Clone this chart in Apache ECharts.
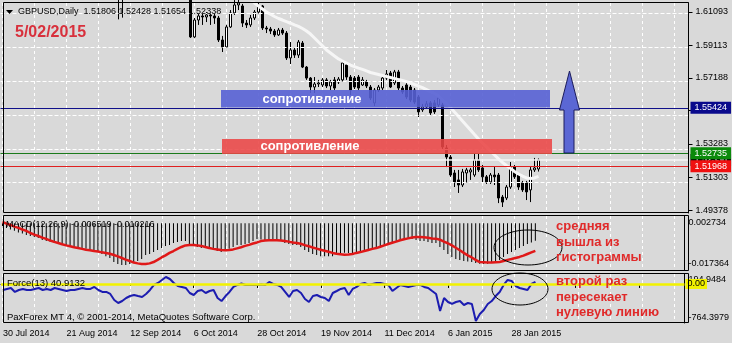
<!DOCTYPE html>
<html><head><meta charset="utf-8">
<script src="https://cdn.jsdelivr.net/npm/echarts@6/dist/echarts.min.js"></script>
<style>html,body{margin:0;padding:0;background:#d9d9d9;}#c{width:732px;height:343px;}</style>
</head><body><div id="c"></div>
<script>
const FONT = '"Liberation Sans", Arial, sans-serif';
const dates = ['30 Jul 2014','31 Jul 2014','1 Aug 2014','4 Aug 2014','5 Aug 2014','6 Aug 2014','7 Aug 2014','8 Aug 2014','11 Aug 2014','12 Aug 2014','13 Aug 2014','14 Aug 2014','15 Aug 2014','18 Aug 2014','19 Aug 2014','20 Aug 2014','21 Aug 2014','22 Aug 2014','25 Aug 2014','26 Aug 2014','27 Aug 2014','28 Aug 2014','29 Aug 2014',
'1 Sep 2014','2 Sep 2014','3 Sep 2014','4 Sep 2014','5 Sep 2014','8 Sep 2014','9 Sep 2014','10 Sep 2014','11 Sep 2014','12 Sep 2014','15 Sep 2014','16 Sep 2014','17 Sep 2014','18 Sep 2014','19 Sep 2014','22 Sep 2014','23 Sep 2014','24 Sep 2014','25 Sep 2014','26 Sep 2014','29 Sep 2014','30 Sep 2014',
'1 Oct 2014','2 Oct 2014','3 Oct 2014','6 Oct 2014','7 Oct 2014','8 Oct 2014','9 Oct 2014','10 Oct 2014','13 Oct 2014','14 Oct 2014','15 Oct 2014','16 Oct 2014','17 Oct 2014','20 Oct 2014','21 Oct 2014','22 Oct 2014','23 Oct 2014','24 Oct 2014','27 Oct 2014','28 Oct 2014','29 Oct 2014','30 Oct 2014','31 Oct 2014',
'3 Nov 2014','4 Nov 2014','5 Nov 2014','6 Nov 2014','7 Nov 2014','10 Nov 2014','11 Nov 2014','12 Nov 2014','13 Nov 2014','14 Nov 2014','17 Nov 2014','18 Nov 2014','19 Nov 2014','20 Nov 2014','21 Nov 2014','24 Nov 2014','25 Nov 2014','26 Nov 2014','27 Nov 2014','28 Nov 2014',
'1 Dec 2014','2 Dec 2014','3 Dec 2014','4 Dec 2014','5 Dec 2014','8 Dec 2014','9 Dec 2014','10 Dec 2014','11 Dec 2014','12 Dec 2014','15 Dec 2014','16 Dec 2014','17 Dec 2014','18 Dec 2014','19 Dec 2014','22 Dec 2014','23 Dec 2014','24 Dec 2014','26 Dec 2014','29 Dec 2014','30 Dec 2014','31 Dec 2014',
'2 Jan 2015','5 Jan 2015','6 Jan 2015','7 Jan 2015','8 Jan 2015','9 Jan 2015','12 Jan 2015','13 Jan 2015','14 Jan 2015','15 Jan 2015','16 Jan 2015','19 Jan 2015','20 Jan 2015','21 Jan 2015','22 Jan 2015','23 Jan 2015','26 Jan 2015','27 Jan 2015','28 Jan 2015','29 Jan 2015','30 Jan 2015',
'2 Feb 2015','3 Feb 2015','4 Feb 2015','5 Feb 2015'];
const emptySlots = 37;

// [open, close, low, high]
const ohlc = [
[1.6940,1.6885,1.6860,1.6965],[1.6885,1.6880,1.6855,1.6920],[1.6880,1.6820,1.6790,1.6900],[1.6820,1.6860,1.6815,1.6885],[1.6860,1.6875,1.6830,1.6900],
[1.6875,1.6840,1.6815,1.6890],[1.6840,1.6825,1.6805,1.6870],[1.6825,1.6790,1.6770,1.6840],[1.6790,1.6790,1.6770,1.6810],[1.6790,1.6800,1.6780,1.6840],
[1.6800,1.6680,1.6660,1.6810],[1.6680,1.6690,1.6665,1.6715],[1.6690,1.6695,1.6660,1.6740],[1.6695,1.6720,1.6680,1.6750],[1.6720,1.6620,1.6600,1.6730],
[1.6620,1.6605,1.6580,1.6640],[1.6605,1.6600,1.6590,1.6640],[1.6600,1.6560,1.6535,1.6610],[1.6560,1.6570,1.6540,1.6590],[1.6570,1.6575,1.6530,1.6590],
[1.6575,1.6580,1.6550,1.6620],[1.6580,1.6600,1.6570,1.6630],[1.6600,1.6595,1.6570,1.6630],[1.6595,1.6600,1.6570,1.6630],[1.6600,1.6460,1.6440,1.6610],
[1.6460,1.6465,1.6410,1.6490],[1.6465,1.6390,1.6350,1.6480],[1.6390,1.6320,1.6285,1.6440],[1.6320,1.6205,1.6185,1.6330],[1.6205,1.6190,1.6065,1.6230],
[1.6190,1.6200,1.6075,1.6235],[1.6200,1.6230,1.6190,1.6250],[1.6230,1.6260,1.6200,1.6275],[1.6260,1.6260,1.6215,1.6290],[1.6260,1.6300,1.6195,1.6310],
[1.6300,1.6300,1.6270,1.6340],[1.6300,1.6390,1.6295,1.6525],[1.6390,1.6300,1.6285,1.6400],[1.6300,1.6330,1.6280,1.6350],[1.6330,1.6360,1.6300,1.6375],
[1.6360,1.6320,1.6300,1.6400],[1.6320,1.6300,1.6285,1.6345],[1.6300,1.6260,1.6240,1.6310],[1.6260,1.6250,1.6210,1.6295],[1.6250,1.6215,1.6190,1.6255],
[1.6215,1.6200,1.6188,1.6230],[1.6200,1.6190,1.6183,1.6225],[1.6190,1.5961,1.5955,1.6200],[1.5961,1.6061,1.5955,1.6073],[1.6061,1.6085,1.6032,1.6097],
[1.6085,1.6079,1.6032,1.6097],[1.6079,1.6091,1.6049,1.6108],[1.6091,1.6085,1.6032,1.6103],[1.6085,1.6073,1.6038,1.6097],[1.6073,1.5943,1.5931,1.6085],
[1.5943,1.5902,1.5872,1.5967],[1.5902,1.6020,1.5896,1.6032],[1.6020,1.6103,1.6014,1.6120],[1.6103,1.6150,1.6091,1.6179],[1.6150,1.6162,1.6120,1.6197],
[1.6144,1.6043,1.6020,1.6156],[1.6043,1.6032,1.6014,1.6061],[1.6032,1.6073,1.6020,1.6091],[1.6073,1.6108,1.6061,1.6120],[1.6108,1.6144,1.6097,1.6162],
[1.6144,1.6014,1.6002,1.6150],[1.6014,1.6008,1.5984,1.6026],[1.6008,1.5996,1.5978,1.6020],[1.5996,1.5973,1.5961,1.6008],[1.5973,1.6002,1.5967,1.6014],
[1.6002,1.5984,1.5973,1.6014],[1.5984,1.5837,1.5825,1.5996],[1.5837,1.5884,1.5801,1.5931],[1.5884,1.5854,1.5837,1.5896],[1.5854,1.5931,1.5837,1.5943],
[1.5925,1.5783,1.5777,1.5937],[1.5783,1.5718,1.5707,1.5789],[1.5718,1.5665,1.5630,1.5724],[1.5665,1.5683,1.5630,1.5724],[1.5683,1.5689,1.5665,1.5707],
[1.5677,1.5707,1.5665,1.5718],[1.5707,1.5671,1.5659,1.5718],[1.5671,1.5695,1.5647,1.5707],[1.5707,1.5659,1.5647,1.5724],[1.5695,1.5712,1.5683,1.5724],
[1.5707,1.5807,1.5695,1.5825],[1.5795,1.5724,1.5707,1.5813],[1.5724,1.5647,1.5618,1.5736],[1.5718,1.5665,1.5653,1.5730],[1.5724,1.5659,1.5647,1.5736],
[1.5677,1.5707,1.5671,1.5724],[1.5695,1.5671,1.5659,1.5707],[1.5665,1.5600,1.5588,1.5677],[1.5571,1.5647,1.5553,1.5659],[1.5647,1.5665,1.5636,1.5677],
[1.5659,1.5718,1.5647,1.5730],[1.5718,1.5742,1.5707,1.5766],[1.5748,1.5665,1.5659,1.5760],[1.5689,1.5754,1.5677,1.5766],[1.5754,1.5659,1.5647,1.5766],
[1.5659,1.5636,1.5624,1.5671],[1.5677,1.5606,1.5594,1.5689],[1.5665,1.5588,1.5576,1.5677],[1.5647,1.5576,1.5565,1.5659],[1.5606,1.5518,1.5488,1.5618],
[1.5530,1.5547,1.5518,1.5565],[1.5547,1.5565,1.5535,1.5582],[1.5571,1.5512,1.5500,1.5582],[1.5571,1.5518,1.5506,1.5588],[1.5559,1.5600,1.5547,1.5612],
[1.5559,1.5311,1.5299,1.5571],[1.5305,1.5251,1.5192,1.5322],[1.5251,1.5145,1.5134,1.5263],[1.5157,1.5104,1.5074,1.5175],[1.5116,1.5086,1.5039,1.5175],
[1.5086,1.5163,1.5074,1.5181],[1.5157,1.5175,1.5098,1.5187],[1.5163,1.5175,1.5116,1.5187],[1.5145,1.5234,1.5134,1.5275],[1.5234,1.5175,1.5163,1.5275],
[1.5187,1.5134,1.5098,1.5204],[1.5134,1.5104,1.5092,1.5145],[1.5104,1.5145,1.5092,1.5157],[1.5145,1.5134,1.5086,1.5192],[1.5145,1.5009,1.4979,1.5157],
[1.5015,1.4985,1.4956,1.5027],[1.5009,1.5074,1.4997,1.5086],[1.5074,1.5192,1.5063,1.5222],[1.5192,1.5134,1.5122,1.5204],[1.5145,1.5074,1.5057,1.5157],
[1.5098,1.5057,1.5045,1.5110],[1.5098,1.5045,1.4997,1.5110],[1.5057,1.5175,1.4985,1.5192],[1.5175,1.5187,1.5163,1.5246],[1.51806,1.52338,1.51654,1.52428]
];

const maLine = [
null,null,null,null,null,null,null,null,null,null, null,null,null,null,null,null,null,null,null,null,
null,null,null,null,null,null,null,null,null,null, null,null,null,null,null,null,null,null,null,null,
null,null,null,null,null,null,null,null,null,null, null,null,null,null,null,null,null,null,
1.6235,1.6225,1.6212,1.6200,1.6182,1.6162,1.6144,1.6126,1.6108,1.6095,1.6082,1.6070,
1.6061,1.6051,1.6042,1.6032,1.6023,1.6011,1.5996,1.5978,1.5955,1.5931,
1.5908,1.5884,1.5866,1.5848,1.5831,1.5819,1.5807,1.5795,1.5786,1.5777,
1.5769,1.5760,1.5751,1.5745,1.5739,1.5733,1.5727,1.5721,1.5715,1.5709,
1.5704,1.5697,1.5689,1.5680,1.5671,1.5661,1.5650,1.5638,1.5627,1.5612,
1.5588,1.5568,1.5544,1.5517,1.5491,1.5464,1.5438,1.5411,1.5384,1.5358,
1.5334,1.5311,1.5287,1.5263,1.5240,1.5219,1.5201,1.5184,1.5166,1.5151,
1.5139,1.5128,1.5125,1.5128,1.5137
];

const macdMain = [
-0.0010,-0.0017,-0.0023,-0.0028,-0.0034,-0.0038,-0.0043,-0.0047,-0.0051,-0.0055,
-0.0062,-0.0066,-0.0069,-0.0071,-0.0077,-0.0081,-0.0084,-0.0088,-0.0092,-0.0094,
-0.0095,-0.0095,-0.0097,-0.0099,-0.0107,-0.0114,-0.0122,-0.0129,-0.0144,-0.0151,
-0.0155,-0.0155,-0.0151,-0.0148,-0.0140,-0.0133,-0.0118,-0.0114,-0.0107,-0.0099,
-0.0092,-0.0084,-0.0081,-0.0073,-0.0069,-0.0066,-0.0066,-0.0081,-0.0084,-0.0088,
-0.0092,-0.0092,-0.0094,-0.0095,-0.0103,-0.0107,-0.0103,-0.0095,-0.0088,-0.0081,
-0.0081,-0.0077,-0.0073,-0.0066,-0.0058,-0.0060,-0.0062,-0.0064,-0.0066,-0.0066,
-0.0066,-0.0073,-0.0077,-0.0081,-0.0081,-0.0088,-0.0099,-0.0107,-0.0114,-0.0118,
-0.0122,-0.0122,-0.0122,-0.0122,-0.0118,-0.0110,-0.0109,-0.0110,-0.0110,-0.0109,
-0.0107,-0.0103,-0.0103,-0.0099,-0.0095,-0.0088,-0.0081,-0.0077,-0.0069,-0.0066,
-0.0062,-0.0058,-0.0058,-0.0058,-0.0062,-0.0066,-0.0066,-0.0069,-0.0073,-0.0073,
-0.0088,-0.0099,-0.0114,-0.0125,-0.0133,-0.0136,-0.0140,-0.0142,-0.0144,-0.0148,
-0.0150,-0.0151,-0.0150,-0.0146,-0.0142,-0.0136,-0.0125,-0.0114,-0.0107,-0.0099,
-0.0092,-0.0084,-0.0077,-0.0071,-0.006519
];

const macdSignal = [
0.0005,-0.0001,-0.0006,-0.0012,-0.0017,-0.0023,-0.0028,-0.0036,-0.0042,-0.0047,
-0.0053,-0.0058,-0.0064,-0.0069,-0.0073,-0.0078,-0.0082,-0.0085,-0.0089,-0.0092,
-0.0095,-0.0098,-0.0100,-0.0103,-0.0105,-0.0108,-0.0110,-0.0113,-0.0118,-0.0123,
-0.0129,-0.0135,-0.0140,-0.0146,-0.0149,-0.0151,-0.0151,-0.0149,-0.0144,-0.0136,
-0.0127,-0.0119,-0.0110,-0.0103,-0.0095,-0.0088,-0.0082,-0.0081,-0.0081,-0.0082,
-0.0084,-0.0088,-0.0092,-0.0095,-0.0097,-0.0099,-0.0100,-0.0099,-0.0097,-0.0093,
-0.0089,-0.0084,-0.0080,-0.0075,-0.0071,-0.0066,-0.0064,-0.0063,-0.0063,-0.0063,
-0.0064,-0.0066,-0.0068,-0.0071,-0.0073,-0.0076,-0.0081,-0.0085,-0.0090,-0.0094,
-0.0098,-0.0102,-0.0106,-0.0110,-0.0113,-0.0115,-0.0117,-0.0116,-0.0114,-0.0110,
-0.0107,-0.0103,-0.0099,-0.0095,-0.0092,-0.0087,-0.0082,-0.0077,-0.0072,-0.0068,
-0.0063,-0.0059,-0.0056,-0.0053,-0.0051,-0.0051,-0.0052,-0.0054,-0.0056,-0.0057,
-0.0061,-0.0068,-0.0074,-0.0082,-0.0091,-0.0100,-0.0110,-0.0119,-0.0127,-0.0136,
-0.0144,-0.0145,-0.0146,-0.0146,-0.0145,-0.0144,-0.0140,-0.0136,-0.0133,-0.0129,
-0.0125,-0.0120,-0.0114,-0.0108,-0.010216
];

const force13 = [
-118,-98,-79,-157,-118,-98,-118,-118,-98,-79,
-118,-98,-118,-79,-98,-118,-138,-118,-118,-98,
-79,-98,-98,-59,-118,-157,-157,-196,-314,-373,
-334,-275,-236,-216,-236,-255,-196,-118,-20,19,
78,136,97,19,-40,-59,-79,-177,-216,-138,
-118,-177,-138,-118,-275,-334,-236,-157,-59,-20,
9,-20,-20,-20,-20,-10,-20,38,0,-20,
-59,-157,-255,-138,-118,-177,-294,-353,-236,-216,
-255,-275,-334,-177,-138,-98,-79,-216,-98,-59,
0,19,-20,0,19,19,0,-20,-138,-79,
-20,-40,-59,-40,-20,-20,-59,-79,-138,-196,
-529,-275,-353,-392,-353,-334,-412,-373,-392,-725,
-588,-510,-392,-334,-236,-157,-20,78,58,-40,
-79,-98,-118,0,40.9132
];

const priceTicks = [1.61093, 1.59113, 1.57188, 1.55263, 1.53283, 1.51303, 1.49378];
const priceRange = [1.49205, 1.61616];
const macdRange = [-0.017364, 0.002734];
const forceRange = [-764.3979, 194.9484];
const levelBlue = 1.55424, levelGreen = 1.52735, levelRed = 1.51968;
const forceLevel = 0;
const gridStep = 8, labelStep = 16;

const cats = dates.concat(Array.from({length: emptySlots}, (_, k) => '#' + k));
const last = ohlc[ohlc.length - 1];
const n = dates.length;

const chart = echarts.init(document.getElementById('c'), null, {renderer: 'canvas'});

const gridX = {left: 0.5, width: 688};
const panels = [{top: 3, height: 210}, {top: 216, height: 54}, {top: 274, height: 49}];

function xAxisFor(gi, show) {
  return {
    type: 'category', gridIndex: gi, data: cats, boundaryGap: true,
    axisLine: {show: show, lineStyle: {color: '#000', width: 1}},
    axisTick: {show: show, alignWithLabel: true, length: 4, interval: (i) => i % labelStep === 0, lineStyle: {color: '#000'}},
    axisLabel: {show: show, interval: (i) => i % labelStep === 0 && i < n, align: 'left', margin: 6,
      fontSize: 9, fontFamily: FONT, color: '#000'},
    splitLine: {show: false}
  };
}
const dashStyle = {color: '#ffffff', width: 1, type: 'dashed', opacity: 1};
const sideLabel = {fontSize: 9, fontFamily: FONT, color: '#000'};

const option = {
  animation: false,
  backgroundColor: '#d9d9d9',
  grid: panels.map((p) => Object.assign({}, p, gridX)),
  xAxis: [xAxisFor(0, false), xAxisFor(1, false), xAxisFor(2, true)],
  yAxis: [
    {type: 'value', gridIndex: 0, position: 'right', min: priceRange[0], max: priceRange[1],
      axisLine: {show: true, lineStyle: {color: '#000'}},
      axisTick: {show: true, length: 4, customValues: priceTicks, lineStyle: {color: '#000'}},
      axisLabel: Object.assign({customValues: priceTicks, margin: 7, formatter: (v) => v.toFixed(5)}, sideLabel),
      splitLine: {show: false}},
    {type: 'value', gridIndex: 1, position: 'right', min: macdRange[0], max: macdRange[1],
      axisLine: {show: true, lineStyle: {color: '#000'}},
      axisTick: {show: false},
      axisLabel: Object.assign({customValues: macdRange, margin: 4,
        formatter: (v) => v > -0.01 ? '{t|' + v.toFixed(6) + '}' : '{b|' + v.toFixed(6) + '}',
        rich: {t: {padding: [14, 0, 0, 0], fontSize: 9, fontFamily: FONT}, b: {padding: [0, 0, 13, 0], fontSize: 9, fontFamily: FONT}}}, sideLabel),
      splitLine: {show: false}},
    {type: 'value', gridIndex: 2, position: 'right', min: forceRange[0], max: forceRange[1],
      axisLine: {show: true, lineStyle: {color: '#000'}},
      axisTick: {show: false},
      axisLabel: Object.assign({customValues: forceRange, margin: 4,
        formatter: (v) => v > 0 ? '{t|' + v.toFixed(4) + '}' : '{b|' + v.toFixed(4) + '}',
        rich: {t: {padding: [12, 0, 0, 0], fontSize: 9, fontFamily: FONT}, b: {padding: [0, 0, 10, 0], fontSize: 9, fontFamily: FONT}}}, sideLabel),
      splitLine: {show: false}}
  ],
  series: [
    {type: 'candlestick', xAxisIndex: 0, yAxisIndex: 0, data: ohlc, barWidth: 3, z: 3,
      itemStyle: {color: '#ffffff', color0: '#000000', borderColor: '#000000', borderColor0: '#000000', borderWidth: 1},
      markLine: {silent: true, symbol: ['none', 'none'], animation: false, precision: 5,
        label: {show: true, position: 'end', distance: 2, fontSize: 9, fontFamily: FONT, color: '#fff', padding: [2, 4, 1, 4],
          formatter: (p) => p.value.toFixed(5)},
        data: [
          {yAxis: last[1], lineStyle: {color: '#f4f4f4', width: 1.5, type: 'solid'},
            label: {backgroundColor: '#000000', color: '#fff'}},
          {yAxis: levelBlue, lineStyle: {color: '#10108a', width: 1, type: 'solid'},
            label: {backgroundColor: '#0a0a8c'}},
          {yAxis: levelGreen, lineStyle: {color: '#1a7a1a', width: 1, type: 'solid'},
            label: {backgroundColor: '#0b8a0b'}},
          {yAxis: levelRed, lineStyle: {color: '#e02020', width: 1, type: 'solid'},
            label: {backgroundColor: '#f01010'}}
        ]}},
    {type: 'line', xAxisIndex: 0, yAxisIndex: 0, data: maLine, symbol: 'none', z: 4,
      lineStyle: {color: '#f6f6f6', width: 3},
      markLine: {silent: true, symbol: ['none', 'none'], animation: false, label: {show: false},
        lineStyle: dashStyle, data: priceTicks.map((p) => ({yAxis: p}))}},
    {type: 'bar', xAxisIndex: 1, yAxisIndex: 1, data: macdMain, barWidth: 1, z: 3,
      itemStyle: {color: '#000000'}},
    {type: 'line', xAxisIndex: 1, yAxisIndex: 1, data: macdSignal, symbol: 'none', z: 4,
      lineStyle: {color: '#e01818', width: 2.5}},
    {type: 'line', xAxisIndex: 2, yAxisIndex: 2, data: force13, symbol: 'none', z: 4,
      lineStyle: {color: '#1c1cb0', width: 2},
      markLine: {silent: true, symbol: ['none', 'none'], animation: false,
        lineStyle: {color: '#f2f200', width: 2.5, type: 'solid'},
        label: {show: true, position: 'end', distance: 1, fontSize: 9, fontFamily: FONT, color: '#000',
          backgroundColor: '#f2f200', padding: [1, 2, 0, 2], formatter: (p) => p.value.toFixed(2)},
        data: [{yAxis: forceLevel}]}}
  ],
  graphic: [
    {type: 'rect', z: 50, silent: true, shape: {x: 3.5, y: 2.5, width: 685, height: 210}, style: {fill: 'none', stroke: '#000', lineWidth: 1}},
    {type: 'rect', z: 50, silent: true, shape: {x: 3.5, y: 215.5, width: 685, height: 55}, style: {fill: 'none', stroke: '#000', lineWidth: 1}},
    {type: 'rect', z: 50, silent: true, shape: {x: 3.5, y: 273.5, width: 685, height: 49}, style: {fill: 'none', stroke: '#000', lineWidth: 1}},
    {type: 'polygon', z: 60, silent: true, shape: {points: [[6, 10], [13, 10], [9.5, 14]]}, style: {fill: '#000'}},
    {type: 'text', z: 60, silent: true, style: {x: 18, y: 12, text: 'GBPUSD,Daily  ' + last[0].toFixed(5) + ' ' + last[3].toFixed(5) + ' ' + last[2].toFixed(5) + ' ' + last[1].toFixed(5),
      font: '9px ' + FONT, fill: '#000', textVerticalAlign: 'middle'}},
    {type: 'text', z: 60, silent: true, style: {x: 15, y: 33, text: '5/02/2015', font: 'bold 16px ' + FONT, fill: '#d8303c', textVerticalAlign: 'middle'}},
    {type: 'rect', z: 40, silent: true, shape: {x: 221, y: 90, width: 329, height: 17.5}, style: {fill: 'rgba(86,96,212,0.9)'}},
    {type: 'text', z: 41, silent: true, style: {x: 312, y: 99, text: 'сопротивление', font: 'bold 13px ' + FONT, fill: '#fff', textAlign: 'center', textVerticalAlign: 'middle'}},
    {type: 'rect', z: 40, silent: true, shape: {x: 222, y: 139, width: 330, height: 15}, style: {fill: 'rgba(234,70,70,0.88)'}},
    {type: 'text', z: 41, silent: true, style: {x: 310, y: 146.5, text: 'сопротивление', font: 'bold 13px ' + FONT, fill: '#fff', textAlign: 'center', textVerticalAlign: 'middle'}},
    {type: 'polygon', z: 40, silent: true, shape: {points: [[569.5, 71], [579.5, 110], [574, 110], [574, 153], [564, 153], [564, 110], [559.5, 110]]},
      style: {fill: '#5b67d4', stroke: '#1c1c5c', lineWidth: 1}},
    {type: 'ellipse', z: 45, silent: true, shape: {cx: 528, cy: 247.5, rx: 34, ry: 17.5}, style: {fill: 'none', stroke: '#000', lineWidth: 1}},
    {type: 'ellipse', z: 45, silent: true, shape: {cx: 520, cy: 289, rx: 28, ry: 16}, style: {fill: 'none', stroke: '#000', lineWidth: 1}},
    {type: 'text', z: 60, silent: true, style: {x: 6, y: 225, text: 'MACD(12,26,9) ' + macdMain[n - 1].toFixed(6) + ' ' + macdSignal[n - 1].toFixed(6),
      font: '9px ' + FONT, fill: '#000', textVerticalAlign: 'middle'}},
    {type: 'text', z: 60, silent: true, style: {x: 7, y: 283, text: 'Force(13) ' + force13[n - 1].toFixed(4),
      font: '9.5px ' + FONT, fill: '#000', textVerticalAlign: 'middle'}},
    {type: 'text', z: 60, silent: true, style: {x: 7, y: 317, text: 'PaxForex MT 4, © 2001-2014, MetaQuotes Software Corp.',
      font: '9.5px ' + FONT, fill: '#000', textVerticalAlign: 'middle'}},
    {type: 'text', z: 60, silent: true, style: {x: 556, y: 226, text: 'средняя', font: 'bold 13px ' + FONT, fill: '#e02a2a', textVerticalAlign: 'middle'}},
    {type: 'text', z: 60, silent: true, style: {x: 556, y: 242, text: 'вышла из', font: 'bold 13px ' + FONT, fill: '#e02a2a', textVerticalAlign: 'middle'}},
    {type: 'text', z: 60, silent: true, style: {x: 556, y: 257.5, text: 'гистограммы', font: 'bold 13px ' + FONT, fill: '#e02a2a', textVerticalAlign: 'middle'}},
    {type: 'text', z: 60, silent: true, style: {x: 556, y: 281.5, text: 'второй раз', font: 'bold 13px ' + FONT, fill: '#e02a2a', textVerticalAlign: 'middle'}},
    {type: 'text', z: 60, silent: true, style: {x: 556, y: 297, text: 'пересекает', font: 'bold 13px ' + FONT, fill: '#e02a2a', textVerticalAlign: 'middle'}},
    {type: 'text', z: 60, silent: true, style: {x: 556, y: 312.5, text: 'нулевую линию', font: 'bold 13px ' + FONT, fill: '#e02a2a', textVerticalAlign: 'middle'}}
  ]
};
chart.setOption(option);

// vertical grid every 8 bars, positioned through the category axis scale
const vLines = [];
cats.forEach((c, i) => {
  if (i % gridStep !== 0) return;
  const px = chart.convertToPixel({xAxisIndex: 0}, i);
  if (px == null || isNaN(px)) return;
  const x = Math.round(px - 0.5) + 0.5;
  panels.forEach((p) => {
    vLines.push({type: 'line', z: 1, silent: true,
      shape: {x1: x, y1: p.top, x2: x, y2: p.top + p.height},
      style: {stroke: '#ffffff', lineWidth: 1, lineDash: [3, 3]}});
  });
});
option.graphic = option.graphic.concat(vLines);
chart.setOption(option, true);
</script>
</body></html>
